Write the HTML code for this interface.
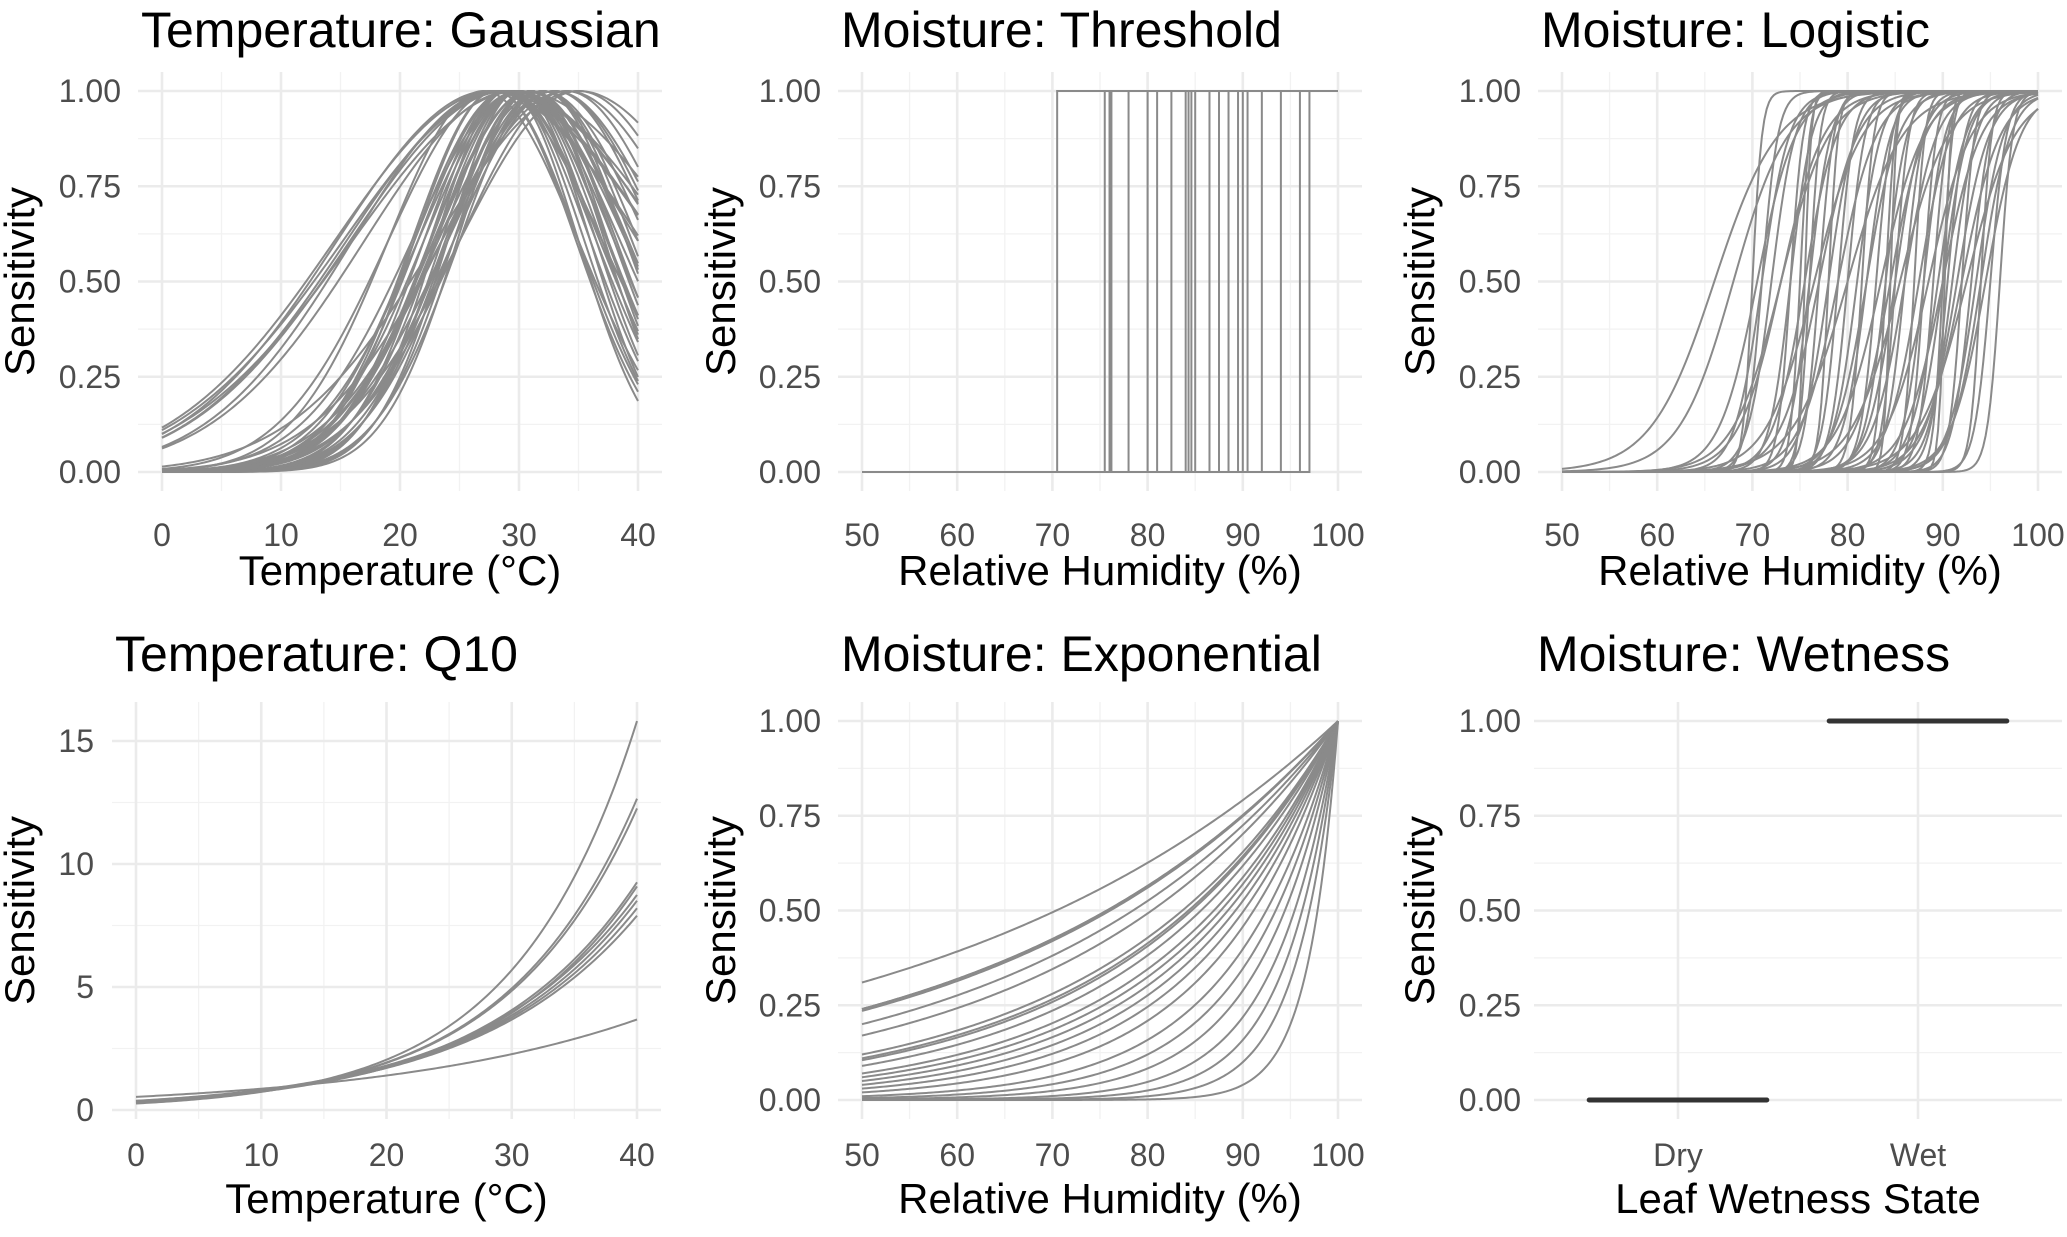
<!DOCTYPE html>
<html><head><meta charset="utf-8"><style>
html,body{margin:0;padding:0;background:#fff}
svg{display:block;font-family:"Liberation Sans",Arial,sans-serif}
</style></head><body>
<svg id="fig" width="2067" height="1237" viewBox="0 0 2067 1237" xmlns="http://www.w3.org/2000/svg"></svg>
<script>
// ---- data ----
const gaussTopt = [28,28.5,29,29.5,28,30,27.5,29, 29,30,31,32,33,34,35,30,31,32,29,30,31,33,28,30,31,32,30,29,31,30,32,34,28,29,30,31,33,35,30,31,27,28,29];
const gaussSigma = [13.5,13,13.8,12.5,12,14,12.8,13.2, 7,7.5,8,7,8.5,9,10,6.5,7,8,7.5,8,6.5,9,7,7,8,7.5,6,6.5,7.2,8.5,8.8,10.5,6.8,7.8,9,8.2,9.5,12,7.4,6.2,8,9,6];
const thresholds = [70.5,75.5,76,76.2,78,80,81,82.5,84,84.3,84.6,85,86.5,87.5,88.5,89.5,90,90.5,92,94,96,97];
const logisX0 = [68,70,70.5,71,72,73,74,75,75.5,76,76,76.5,77,78,78,79,80,80,81,81.5,82,83,83.5,84,84,84.5,85,85,85.5,86,87,87.5,88,88.5,89,89.5,90,90,90.5,91,91.5,92,92.5,93,93.5,94,94.5,95,71,74,77,79,82,86,88,90,92,94,66,73,75.5,84.5,90.2,96];
const logisK = [0.35,2,0.5,1.2,0.8,0.45,1.5,2,0.6,1.8,0.9,0.4,1.3,0.7,2,0.5,1.1,0.35,0.8,1.6,0.6,1.2,0.45,2,0.9,0.55,1.4,0.7,0.4,1,1.8,0.6,0.9,0.45,1.3,0.7,2,0.5,1.1,0.8,0.6,1.5,0.4,1,0.7,1.8,0.55,1.2,0.7,0.9,0.5,1.2,0.8,0.6,1.5,0.75,0.5,0.65,0.3,0.4,3,3,3,1.5];
const q10Values = [2.78,2.56,2.53,2.28,2.21,2.18,2.15,1.62,2.3,2.2];
const q10Tref = [13,13,13,13,13,13,13,13,13.5,12.5];
const expAt50 = [0.31,0.24,0.24,0.235,0.2,0.17,0.12,0.11,0.105,0.09,0.07,0.06,0.05,0.04,0.03,0.02,0.01,0.005,0.002,0.0005,0.0001,0.00001,0.0000001];
const wetCats = ["Dry","Wet"];
const wetVals = [0,1];
const xTicksTemp = [0,10,20,30,40];
const xTicksRH = [50,60,70,80,90,100];
const yTicksUnit = ["0.00","0.25","0.50","0.75","1.00"];
const yTicksQ10 = [0,5,10,15];

const NS="http://www.w3.org/2000/svg";
const svg=document.getElementById('fig');
function mk(tag,attrs,parent){const e=document.createElementNS(NS,tag);for(const k in attrs)e.setAttribute(k,attrs[k]);(parent||svg).appendChild(e);return e;}

function panel(o){
  const g=mk('g',{});
  
  
  const sx=v=>o.px0+(v-o.x0)/(o.x1-o.x0)*(o.px1-o.px0);
  const sy=v=>o.py0+(v-o.y0)/(o.y1-o.y0)*(o.py1-o.py0);
  (o.xMinor||[]).forEach(v=>{const l=mk('line',{x1:sx(v),x2:sx(v),y1:o.top,y2:o.bot,stroke:'#f2f2f2','stroke-width':1.3},g);
    });
  (o.yMinor||[]).forEach(v=>{const l=mk('line',{x1:o.left,x2:o.right,y1:sy(v),y2:sy(v),stroke:'#f2f2f2','stroke-width':1.3},g);
    });
  o.xMajor.forEach((v,i)=>{const l=mk('line',{x1:sx(v),x2:sx(v),y1:o.top,y2:o.bot,stroke:'#ebebeb','stroke-width':2.6},g);
    
    const t=mk('text',{x:sx(v),y:o.xtickY,'text-anchor':'middle','font-size':32,fill:'#4d4d4d'},g);t.textContent=o.xLabels[i];
    });
  o.yMajor.forEach((v,i)=>{const l=mk('line',{x1:o.left,x2:o.right,y1:sy(v),y2:sy(v),stroke:'#ebebeb','stroke-width':2.6},g);
    
    const t=mk('text',{x:o.ytickX,y:sy(v)+11,'text-anchor':'end','font-size':32,fill:'#4d4d4d'},g);t.textContent=o.yLabels[i];
    });
  const tt=mk('text',{x:o.left+3,y:o.titleY,'font-size':50,fill:'#000'},g);tt.textContent=o.title;
  
  const xt=mk('text',{x:(o.left+o.right)/2,y:o.xtitleY,'text-anchor':'middle','font-size':42,fill:'#000'},g);xt.textContent=o.xTitle;
  
  const yc=(o.top+o.bot)/2;
  const yt=mk('text',{x:o.ytitleX,y:yc,'text-anchor':'middle','font-size':42,fill:'#000',transform:`rotate(-90 ${o.ytitleX} ${yc})`},g);yt.textContent='Sensitivity';
  
  return {g,sx,sy};
}
function curve(p,f,xa,xb,name){
  let d='';const n=200;
  for(let i=0;i<=n;i++){const x=xa+(xb-xa)*i/n;d+=(i?'L':'M')+p.sx(x).toFixed(2)+','+p.sy(f(x)).toFixed(2);}
  const e=mk('path',{d,fill:'none',stroke:'#8a8a8a','stroke-width':2},p.g);
  
  
}
const row1={top:72,bot:491,py0:472,py1:91,titleY:47,xtickY:546,xtitleY:585};
const row2={top:702,bot:1119,titleY:671,xtickY:1166,xtitleY:1213};
const unitY={y0:0,y1:1,yMajor:[0,0.25,0.5,0.75,1],yLabels:yTicksUnit,yMinor:[0.125,0.375,0.625,0.875]};

let p=panel(Object.assign({name:'gaussian-panel',title:'Temperature: Gaussian',xTitle:'Temperature (°C)',left:138,right:662,px0:162,px1:638,x0:0,x1:40,
  xMajor:xTicksTemp,xLabels:xTicksTemp.map(String),xMinor:[5,15,25,35],ytickX:121,ytitleX:34},row1,unitY));
gaussTopt.forEach((t,i)=>curve(p,x=>Math.exp(-((x-t)**2)/(2*gaussSigma[i]**2)),0,40,'gaussian-curve'));

p=panel(Object.assign({name:'threshold-panel',title:'Moisture: Threshold',xTitle:'Relative Humidity (%)',left:838,right:1362,px0:862,px1:1338,x0:50,x1:100,
  xMajor:xTicksRH,xLabels:xTicksRH.map(String),xMinor:[55,65,75,85,95],ytickX:821,ytitleX:735},row1,unitY));
thresholds.forEach(t=>{
  const d=`M${p.sx(50)},${p.sy(0)}L${p.sx(t)},${p.sy(0)}L${p.sx(t)},${p.sy(1)}L${p.sx(100)},${p.sy(1)}`;
  const e=mk('path',{d,fill:'none',stroke:'#8a8a8a','stroke-width':2},p.g);
  
  
});

p=panel(Object.assign({name:'logistic-panel',title:'Moisture: Logistic',xTitle:'Relative Humidity (%)',left:1538,right:2062,px0:1562,px1:2038,x0:50,x1:100,
  xMajor:xTicksRH,xLabels:xTicksRH.map(String),xMinor:[55,65,75,85,95],ytickX:1521,ytitleX:1434},row1,unitY));
logisX0.forEach((x0,i)=>curve(p,x=>1/(1+Math.exp(-logisK[i]*(x-x0))),50,100,'logistic-curve'));

p=panel(Object.assign({name:'q10-panel',title:'Temperature: Q10',xTitle:'Temperature (°C)',left:112,right:661,px0:136,px1:637,x0:0,x1:40,
  xMajor:xTicksTemp,xLabels:xTicksTemp.map(String),xMinor:[5,15,25,35],ytickX:94,ytitleX:34,
  py0:1110,py1:741,y0:0,y1:15,yMajor:yTicksQ10,yLabels:yTicksQ10.map(String),yMinor:[2.5,7.5,12.5]},row2));
q10Values.forEach((q,i)=>curve(p,x=>Math.pow(q,(x-q10Tref[i])/10),0,40,'q10-curve'));

p=panel(Object.assign({name:'exponential-panel',title:'Moisture: Exponential',xTitle:'Relative Humidity (%)',left:838,right:1362,px0:862,px1:1338,x0:50,x1:100,
  xMajor:xTicksRH,xLabels:xTicksRH.map(String),xMinor:[55,65,75,85,95],ytickX:821,ytitleX:735,py0:1100,py1:721},row2,unitY));
expAt50.forEach(v=>{const k=-Math.log(v)/50;curve(p,x=>Math.exp(-k*(100-x)),50,100,'exponential-curve');});

p=panel(Object.assign({name:'wetness-panel',title:'Moisture: Wetness',xTitle:'Leaf Wetness State',left:1534,right:2062,px0:1678,px1:1918,x0:1,x1:2,
  xMajor:[1,2],xLabels:wetCats,ytickX:1521,ytitleX:1434,py0:1100,py1:721},row2,unitY));
wetVals.forEach((v,i)=>{
  const e=mk('line',{x1:p.sx(i+1-0.37),x2:p.sx(i+1+0.37),y1:p.sy(v),y2:p.sy(v),stroke:'#333','stroke-width':5,'stroke-linecap':'round'},p.g);
  
  
});
</script>
</body></html>
